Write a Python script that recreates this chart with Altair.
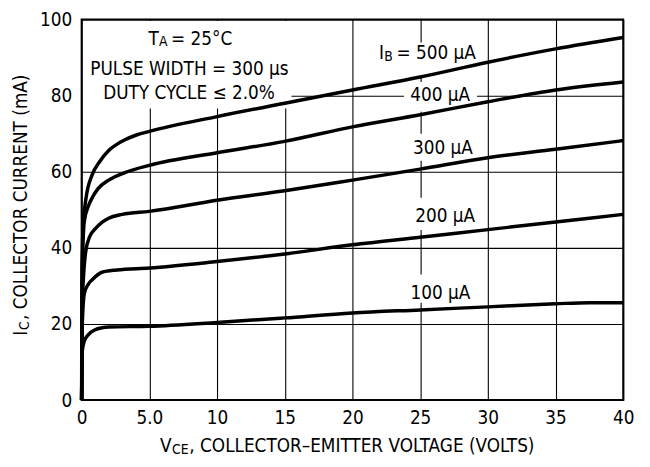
import altair as alt
import pandas as pd

FONT = "Liberation Sans Narrow, DejaVu Sans Condensed, Arial Narrow, sans-serif"

# Collector characteristics, VCE (V) vs IC (mA)
vce_100 = [0, 0.05, 0.2, 0.5, 1, 1.5, 2, 5, 10, 15, 20, 25, 30, 35, 37.5, 40]
ic_100 = [0, 13, 15.5, 17.2, 18.5, 19, 19.2, 19.4, 20.4, 21.6, 22.9, 23.7, 24.5, 25.3, 25.6, 25.6]

vce_200 = [0, 0.05, 0.2, 0.5, 0.8, 1.5, 2.6, 5, 10, 15, 20, 25, 30, 35, 40]
ic_200 = [0, 20, 28, 30.5, 31.7, 33.6, 34.2, 34.7, 36.4, 38.4, 40.8, 42.8, 44.8, 46.8, 48.8]

vce_300 = [0, 0.05, 0.15, 0.3, 0.6, 1, 1.5, 2, 3, 5, 10, 15, 20, 25, 30, 35, 40]
ic_300 = [0, 25, 33, 39, 43, 45, 46.7, 47.8, 48.8, 49.6, 52.5, 55, 57.8, 60.7, 63.7, 65.9, 68.2]

vce_400 = [0, 0.05, 0.2, 0.5, 0.8, 1.2, 2, 3.2, 5, 10, 15, 20, 25, 30, 35, 40]
ic_400 = [0, 35, 47, 51, 53.3, 55.5, 57.8, 59.8, 61.7, 65, 68, 71.8, 75, 78.4, 81.5, 83.6]

vce_500 = [0, 0.02, 0.1, 0.3, 0.8, 1.3, 2, 2.6, 3.2, 4, 5, 10, 15, 20, 25, 30, 35, 40]
ic_500 = [0, 30, 45, 52.5, 59.4, 62.5, 65.6, 67.2, 68.4, 69.6, 70.6, 74.5, 78, 81.5, 84.9, 88.8, 92.3, 95.3]

x_ticks = [0, 5, 10, 15, 20, 25, 30, 35, 40]
y_ticks = [0, 10, 20, 30, 40, 50, 60, 70, 80, 90, 100]

# White boxes behind labels (data units)
box_x = [0.1, 21.5, 23.8, 23.9, 24.1, 23.9]
box_x2 = [15.5, 29.0, 29.2, 29.5, 29.6, 29.3]
box_y = [99.6, 94.0, 83.6, 70.0, 53.2, 33.0]
box_y2 = [76.6, 84.9, 75.8, 62.9, 44.7, 25.6]

# Label pieces (text, x, y, font size, alignment)
lab_text = ["T", "A", "= 25°C", "PULSE WIDTH = 300 µs", "DUTY CYCLE ≤ 2.0%",
            "I", "B", "= 500 µA", "400 µA", "300 µA", "200 µA", "100 µA"]
lab_x = [4.93, 5.72, 6.6, 7.96, 7.93, 21.97, 22.35, 23.25, 26.48, 26.68, 26.85, 26.5]
lab_y = [94.9, 94.0, 94.9, 86.9, 80.8, 91.1, 90.2, 91.1, 80.2, 66.2, 48.3, 28.0]
lab_size = [19, 14, 19, 19, 19, 19, 14, 19, 19, 19, 19, 19]
lab_align = ["left", "left", "left", "center", "center", "left", "left", "left",
             "center", "center", "center", "center"]

curves = pd.concat([
    pd.DataFrame({"vce": vce_100, "ic": ic_100, "ib": "100"}),
    pd.DataFrame({"vce": vce_200, "ic": ic_200, "ib": "200"}),
    pd.DataFrame({"vce": vce_300, "ic": ic_300, "ib": "300"}),
    pd.DataFrame({"vce": vce_400, "ic": ic_400, "ib": "400"}),
    pd.DataFrame({"vce": vce_500, "ic": ic_500, "ib": "500"}),
])
boxes = pd.DataFrame({"x": box_x, "x2": box_x2, "y": box_y, "y2": box_y2})
labels = pd.DataFrame({"t": lab_text, "x": lab_x, "y": lab_y, "s": lab_size, "a": lab_align})

xs = alt.Scale(domain=[0, 40], nice=False, zero=False)
ys = alt.Scale(domain=[0, 100], nice=False, zero=False)

xaxis = alt.Axis(values=x_ticks, title=None, grid=True, ticks=False, domain=False,
                 labelExpr="datum.value == 5 ? '5.0' : datum.label",
                 labelPadding=9, labelFlush=False)
yaxis = alt.Axis(values=y_ticks, title=None, grid=True, ticks=False, domain=False,
                 labelExpr="datum.value % 20 == 0 ? datum.label : ''",
                 labelPadding=10)

base_grid = alt.Chart(curves).mark_line(opacity=0).encode(
    x=alt.X("vce:Q", scale=xs, axis=xaxis),
    y=alt.Y("ic:Q", scale=ys, axis=yaxis),
    detail="ib:N",
)

rects = alt.Chart(boxes).mark_rect(color="white").encode(
    x=alt.X("x:Q", scale=xs), x2="x2:Q",
    y=alt.Y("y:Q", scale=ys), y2="y2:Q",
)

lines = alt.Chart(curves).mark_line(color="black", strokeWidth=3.5, interpolate="monotone").encode(
    x=alt.X("vce:Q", scale=xs),
    y=alt.Y("ic:Q", scale=ys),
    detail="ib:N",
    order="vce:Q",
)

def lab_layer(align):
    return alt.Chart(labels).transform_filter(alt.datum.a == align).mark_text(
        font=FONT, color="black", align=align, baseline="middle"
    ).encode(
        x=alt.X("x:Q", scale=xs), y=alt.Y("y:Q", scale=ys),
        text="t:N", size=alt.Size("s:Q", scale=None),
    )

one = alt.Data(values=[{"k": 1}])

def piece(txt, px, py, fs, angle=0):
    kw = dict(font=FONT, color="black", align="left", baseline="middle",
              fontSize=fs, text=txt)
    if angle:
        kw["angle"] = angle
    return alt.Chart(one).mark_text(**kw).encode(x=alt.value(px), y=alt.value(py))

titles = [
    piece("V", 79.2, 432, 19),
    piece("CE", 91.5, 435.5, 14),
    piece(", COLLECTOR–EMITTER VOLTAGE (VOLTS)", 109, 432, 19),
    piece("I", -61.5, 320, 19, 270),
    piece("C", -57.5, 314, 14, 270),
    piece(", COLLECTOR CURRENT (mA)", -61.5, 304, 19, 270),
]

chart = alt.layer(base_grid, rects, lines, lab_layer("left"), lab_layer("center"), *titles).properties(
    width=548, height=385,
    autosize=alt.AutoSizeParams(type="none"),
    padding={"left": 74.5, "top": 9, "right": 19, "bottom": 65},
).configure_view(
    stroke="black", strokeWidth=2
).configure_axis(
    gridColor="black", gridWidth=1.1, gridOpacity=1,
    labelFont=FONT, labelFontSize=19, labelColor="black",
)

chart.save("out.html", embed_options={"renderer": "svg", "actions": False})
